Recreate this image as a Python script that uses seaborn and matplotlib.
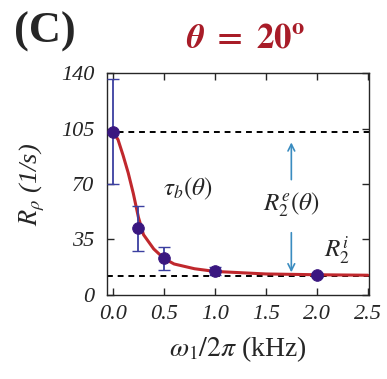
import numpy as np
import pandas as pd
import matplotlib
matplotlib.use("Agg")
import matplotlib.pyplot as plt
import seaborn as sns

# measured relaxation rates
omega = [0.0, 0.25, 0.5, 1.0, 2.0]
r_rho = [103, 42, 23, 15, 12.5]
r_err = [33, 14, 7, 2.5, 1.5]

# fitted curve
fit_x = [0.0, 0.05, 0.1, 0.15, 0.2, 0.25, 0.3, 0.4, 0.5, 0.6, 0.8, 1.0, 1.5, 2.0, 2.5]
fit_y = [103, 98, 88, 77, 64, 49, 38, 29, 23, 19.5, 16.5, 14.8, 13.2, 12.7, 12.4]

r2_total = 103  # upper plateau
r2_i = 12       # lower plateau
arrow_x = 1.75

sns.set_theme(style="ticks")
plt.rcParams["font.family"] = ["Liberation Serif", "DejaVu Serif"]
plt.rcParams["mathtext.fontset"] = "stix"

fig = plt.figure(figsize=(3.87, 3.79), dpi=100)
ax = fig.add_axes([0.276, 0.222, 0.677, 0.585])

# plateau lines
ax.axhline(r2_total, color="black", ls=(0, (3, 2.5)), lw=1.4, zorder=1)
ax.axhline(r2_i, color="black", ls=(0, (3, 2.5)), lw=1.4, zorder=1)

fit = pd.DataFrame({"x": fit_x, "y": fit_y})
sns.lineplot(data=fit, x="x", y="y", ax=ax, color="#c0282d", lw=2.2, zorder=3)

ax.errorbar(omega, r_rho, yerr=r_err, fmt="none", ecolor="#3b3fa0",
            elinewidth=1.3, capsize=4, zorder=4)
pts = pd.DataFrame({"x": omega, "y": r_rho})
sns.scatterplot(data=pts, x="x", y="y", ax=ax, color="#3a1780", s=70,
                edgecolor="#3a1780", zorder=5)

# double arrow for R2e, broken around its label
ax.annotate("", xy=(arrow_x, r2_total - 5), xytext=(arrow_x, 71),
            arrowprops=dict(arrowstyle="->", color="#3a8cc0", lw=1.2))
ax.annotate("", xy=(arrow_x, r2_i + 0.5), xytext=(arrow_x, 41),
            arrowprops=dict(arrowstyle="->", color="#3a8cc0", lw=1.2))
ax.text(arrow_x, 57, r"$R_2^e(\theta)$", ha="center", va="center", fontsize=18)
ax.text(0.73, 67, r"$\tau_b(\theta)$", ha="center", va="center", fontsize=18)
ax.text(2.2, 28, r"$R_2^i$", ha="center", va="center", fontsize=18)

ax.set_xlim(-0.06, 2.51)
ax.set_ylim(0, 140)
ax.set_xticks([0.0, 0.5, 1.0, 1.5, 2.0, 2.5])
ax.set_xticklabels(["0.0", "0.5", "1.0", "1.5", "2.0", "2.5"])
ax.set_yticks([0, 35, 70, 105, 140])
ax.tick_params(direction="in", top=True, right=True, length=5, width=1,
               labelsize=16)
ax.tick_params(axis="y", pad=9)
ax.tick_params(axis="x", pad=7)
for lab in ax.get_xticklabels() + ax.get_yticklabels():
    lab.set_fontstyle("italic")
for sp in ax.spines.values():
    sp.set_linewidth(1.0)

ax.set_xlabel(r"$\omega_1/2\pi$ (kHz)", fontsize=20, labelpad=8)
ax.set_ylabel(r"$R_\rho$ (1/s)", fontsize=19, style="italic", labelpad=10)

fig.text(0.635, 0.895, r"$\boldsymbol{\theta}\ \mathbf{=\ 20^o}$", color="#a81c28",
         fontsize=25, ha="center", va="center", fontweight="bold")
fig.text(0.035, 0.915, "(C)", fontsize=32, fontweight="bold", ha="left", va="center")

fig.savefig("out.png", dpi=100)
